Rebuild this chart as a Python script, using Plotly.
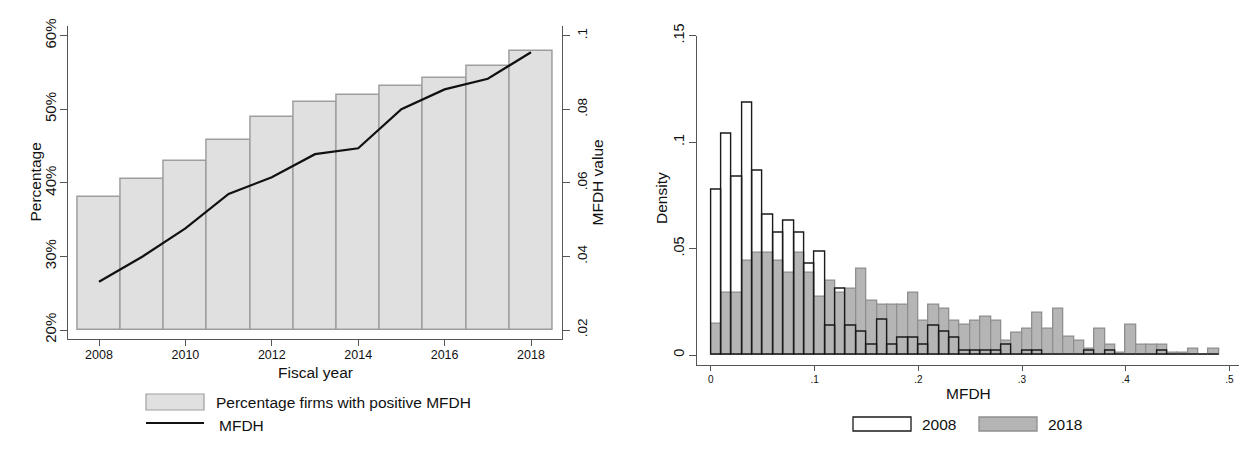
import plotly.graph_objects as go

# ---------------- data ----------------
years = [2008, 2009, 2010, 2011, 2012, 2013, 2014, 2015, 2016, 2017, 2018]
pct_positive = [38.1, 40.5, 43.0, 45.8, 48.9, 51.0, 52.0, 53.2, 54.2, 55.9, 57.9]
mfdh_mean = [0.0331, 0.0399, 0.0476, 0.0570, 0.0615, 0.0678, 0.0694, 0.0800, 0.0854, 0.0883, 0.0955]

bin_width = 0.01
bin_left = [round(i * bin_width, 2) for i in range(49)]
dens_2008 = [0.0778, 0.1039, 0.0836, 0.1184, 0.0866, 0.0660, 0.0574, 0.0630, 0.0574, 0.0429,
             0.0487, 0.0137, 0.0313, 0.0137, 0.0108, 0.0050, 0.0167, 0.0050, 0.0079, 0.0079,
             0.0050, 0.0138, 0.0108, 0.0079, 0.0021, 0.0021, 0.0021, 0.0021, 0.0050, 0.0,
             0.0021, 0.0021, 0.0, 0.0, 0.0, 0.0, 0.0021, 0.0, 0.0021, 0.0,
             0.0, 0.0, 0.0, 0.0021, 0.0, 0.0, 0.0, 0.0, 0.0]
dens_2018 = [0.0145, 0.0294, 0.0294, 0.0443, 0.0481, 0.0481, 0.0443, 0.0388, 0.0481, 0.0388,
             0.0275, 0.0351, 0.0294, 0.0313, 0.0406, 0.0256, 0.0236, 0.0236, 0.0236, 0.0291,
             0.0160, 0.0236, 0.0217, 0.0160, 0.0142, 0.0160, 0.0181, 0.0160, 0.0069, 0.0105,
             0.0124, 0.0200, 0.0123, 0.0217, 0.0086, 0.0068, 0.0030, 0.0123, 0.0049, 0.0011,
             0.0143, 0.0049, 0.0049, 0.0049, 0.0011, 0.0011, 0.0030, 0.0, 0.0030]

left_yticks = [20, 30, 40, 50, 60]
left_yticktext = ["20%", "30%", "40%", "50%", "60%"]
right_yticks = [0.02, 0.04, 0.06, 0.08, 0.1]
right_yticktext = [".02", ".04", ".06", ".08", ".1"]
year_ticks = [2008, 2010, 2012, 2014, 2016, 2018]
hist_xticks = [0, 0.1, 0.2, 0.3, 0.4, 0.5]
hist_xticktext = ["0", ".1", ".2", ".3", ".4", ".5"]
hist_yticks = [0, 0.05, 0.1, 0.15]
hist_yticktext = ["0", ".05", ".1", ".15"]

# ---------------- styling ----------------
W, H = 1243, 455
FONT = "Liberation Sans, Arial, Helvetica, sans-serif"
AXIS_COL = "#555555"
BAR_FILL = "#e0e0e0"
BAR_LINE = "#9e9e9e"
G18_FILL = "#b5b5b5"
G18_LINE = "#8e8e8e"


def px(x):
    return x / W


def py(y):
    return 1 - y / H


BASE = 20
fig = go.Figure()

fig.add_trace(go.Bar(
    x=years, y=[p - BASE for p in pct_positive], base=BASE, width=1.0,
    marker=dict(color=BAR_FILL, line=dict(color=BAR_LINE, width=1.5)),
    name="Percentage firms with positive MFDH", xaxis="x", yaxis="y", showlegend=False,
))
fig.add_trace(go.Scatter(
    x=years, y=mfdh_mean, mode="lines", line=dict(color="#111111", width=2.2),
    name="MFDH", xaxis="x", yaxis="y2", showlegend=False,
))

centers = [b + bin_width / 2 for b in bin_left]
fig.add_trace(go.Bar(
    x=centers, y=dens_2018, width=bin_width,
    marker=dict(color=G18_FILL, line=dict(color=G18_LINE, width=1.3)),
    name="2018", xaxis="x3", yaxis="y3", showlegend=False,
))
fig.add_trace(go.Bar(
    x=centers, y=dens_2008, width=bin_width,
    marker=dict(color="rgba(0,0,0,0)", line=dict(color="#1a1a1a", width=1.4)),
    name="2008", xaxis="x3", yaxis="y3", showlegend=False,
))

axis_common = dict(showgrid=False, zeroline=False, showline=True, linecolor=AXIS_COL,
                   linewidth=1, ticks="outside", tickcolor=AXIS_COL, automargin=False)

fig.update_layout(
    template="none",
    width=W, height=H,
    margin=dict(l=0, r=0, t=0, b=0, pad=0),
    paper_bgcolor="white", plot_bgcolor="white",
    barmode="overlay", bargap=0, showlegend=False,
    font=dict(family=FONT, color="#111111"),
    xaxis=dict(domain=[px(67.7), px(562.3)], range=[2007.2755, 2018.7245],
               tickvals=year_ticks, tickfont=dict(size=12.5), anchor="y",
               ticklen=6, ticklabelstandoff=-2, **axis_common),
    yaxis=dict(domain=[py(339.3), py(26)], range=[18.736, 61.318],
               tickvals=left_yticks, ticktext=left_yticktext, tickangle=-90,
               tickfont=dict(size=15), anchor="x", ticklen=7, ticklabelstandoff=-2,
               **axis_common),
    yaxis2=dict(overlaying="y", side="right", anchor="x", range=[0.017472, 0.102637],
                tickvals=right_yticks, ticktext=right_yticktext, tickangle=-90,
                tickfont=dict(size=13.5), ticklen=7, **axis_common),
    xaxis3=dict(domain=[px(697.3), px(1239)], range=[-0.01311, 0.50926],
                tickvals=hist_xticks, ticktext=hist_xticktext, tickfont=dict(size=10),
                anchor="y3", ticklen=5, **axis_common),
    yaxis3=dict(domain=[py(364.7), py(35.7)], range=[-0.004557, 0.15],
                tickvals=hist_yticks, ticktext=hist_yticktext, tickangle=-90,
                tickfont=dict(size=14.5), anchor="x3", ticklen=7, **axis_common),
)

# axis titles and legend texts
ann = []


def add_text(text, x, y, size, angle=0, xanchor="center"):
    ann.append(dict(text=text, x=px(x), y=py(y), xref="paper", yref="paper",
                    xanchor=xanchor, yanchor="middle", showarrow=False,
                    textangle=angle, font=dict(size=size, family=FONT, color="#111111")))


add_text("Percentage", 35, 182.5, 15.5, -90)
add_text("MFDH value", 597, 182.5, 15.5, -90)
add_text("Fiscal year", 315, 372, 15.5)
add_text("Density", 661, 198, 15.5, -90)
add_text("MFDH", 968, 393, 15.5)

add_text("Percentage firms with positive MFDH", 214, 402, 15.5, xanchor="left")
add_text("MFDH", 217, 425, 15.5, xanchor="left")
add_text("2008", 920, 424, 15.5, xanchor="left")
add_text("2018", 1046, 424, 15.5, xanchor="left")
fig.update_layout(annotations=ann)

shapes = [
    dict(type="rect", xref="paper", yref="paper", x0=px(146), x1=px(204), y0=py(410), y1=py(394),
         fillcolor=BAR_FILL, line=dict(color=BAR_LINE, width=1.2)),
    dict(type="line", xref="paper", yref="paper", x0=px(146), x1=px(204), y0=py(423), y1=py(423),
         line=dict(color="#111111", width=2.2)),
    dict(type="rect", xref="paper", yref="paper", x0=px(853), x1=px(911), y0=py(431), y1=py(417),
         fillcolor="white", line=dict(color="#1a1a1a", width=1.3)),
    dict(type="rect", xref="paper", yref="paper", x0=px(979), x1=px(1037), y0=py(431), y1=py(417),
         fillcolor=G18_FILL, line=dict(color=G18_LINE, width=1.3)),
]
fig.update_layout(shapes=shapes)

fig.write_html("out.html")
